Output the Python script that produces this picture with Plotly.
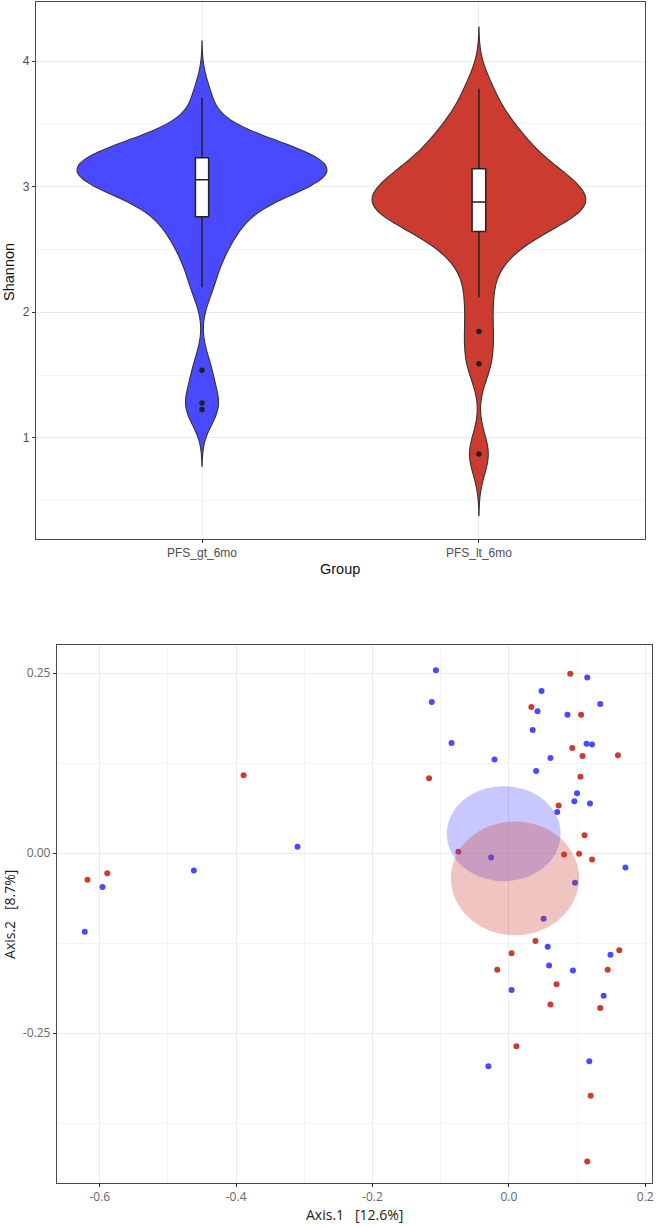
import numpy as np
import plotly.graph_objects as go

# ---------------- data ----------------
groups = ["PFS_gt_6mo", "PFS_lt_6mo"]
group_colors = ["#4949FF", "#CC3B2F"]

# Shannon diversity per sample (estimated from the violin / box plot)
shannon_gt = [1.225, 1.277, 1.538, 2.20, 2.40, 2.52, 2.62, 2.70, 2.76, 2.81,
              2.88, 2.94, 2.98, 3.01, 3.03, 3.045, 3.05, 3.06, 3.08, 3.10,
              3.12, 3.14, 3.16, 3.18, 3.21, 3.23, 3.25, 3.27, 3.29, 3.31,
              3.33, 3.36, 3.45, 3.708]
shannon_lt = [0.871, 1.59, 1.846, 2.12, 2.38, 2.52, 2.60, 2.684, 2.72, 2.76,
              2.80, 2.83, 2.86, 2.87, 2.886, 2.92, 2.96, 3.00, 3.05, 3.09,
              3.13, 3.155, 3.22, 3.30, 3.38, 3.46, 3.56, 3.78]

# PCoA coordinates
pcoa_gt_x = [-0.622, -0.596, -0.462, -0.310, -0.107, 0.115, 0.048, -0.113, 0.134, 0.042,
             0.086, 0.035, -0.084, 0.114, 0.122, -0.021, 0.061, 0.040, 0.100, 0.096,
             0.119, 0.071, -0.026, 0.171, 0.097, 0.051, 0.057, 0.149, 0.059, 0.094,
             0.004, 0.139, 0.118, -0.030]
pcoa_gt_y = [-0.109, -0.047, -0.024, 0.009, 0.254, 0.244, 0.225, 0.210, 0.207, 0.197,
             0.192, 0.171, 0.153, 0.152, 0.151, 0.130, 0.132, 0.114, 0.083, 0.072,
             0.069, 0.057, -0.006, -0.020, -0.041, -0.091, -0.130, -0.141, -0.156, -0.163,
             -0.190, -0.198, -0.289, -0.296]
pcoa_lt_x = [-0.618, -0.589, -0.389, 0.090, 0.033, 0.106, 0.093, 0.108, 0.160, -0.117,
             0.105, 0.073, 0.111, -0.074, 0.081, 0.103, 0.122, 0.039, 0.162, 0.004,
             -0.017, 0.145, 0.070, 0.061, 0.134, 0.011, 0.120, 0.115]
pcoa_lt_y = [-0.037, -0.028, 0.108, 0.249, 0.203, 0.192, 0.146, 0.135, 0.136, 0.104,
             0.106, 0.066, 0.025, 0.002, -0.002, -0.001, -0.009, -0.122, -0.135, -0.139,
             -0.162, -0.162, -0.182, -0.210, -0.215, -0.268, -0.337, -0.428]

# group ellipses (centre, semi-axes)
ell_cx = [-0.0075, 0.009]
ell_cy = [0.027, -0.035]
ell_rx = [0.0835, 0.094]
ell_ry = [0.066, 0.079]

shannon_ticks = [1, 2, 3, 4]
axis1_ticks = [-0.6, -0.4, -0.2, 0.0, 0.2]
axis1_labels = ["-0.6", "-0.4", "-0.2", "0.0", "0.2"]
axis2_ticks = [-0.25, 0.0, 0.25]
axis2_labels = ["-0.25", "0.00", "0.25"]


def nrd0(v):
    v = np.asarray(v, float)
    q1, q3 = np.quantile(v, [0.25, 0.75])
    return 0.9 * min(v.std(ddof=1), (q3 - q1) / 1.34) * len(v) ** -0.2


violin_widths = [0.9, 0.77]
box_widths = [0.053, 0.064]

fig = go.Figure()
for g, vals, col, w, bw_ in zip(groups, [shannon_gt, shannon_lt], group_colors,
                                violin_widths, box_widths):
    bw = nrd0(vals)
    fig.add_trace(go.Violin(
        y=vals, x0=g, name=g, xaxis="x", yaxis="y",
        fillcolor=col, opacity=1,
        line=dict(color="#333333", width=1.1),
        bandwidth=bw, spanmode="manual",
        span=[min(vals) - 3 * bw, max(vals) + 3 * bw],
        scalemode="width", width=w,
        points="outliers", pointpos=0, jitter=0,
        marker=dict(color="#222222", size=5.5, line=dict(width=0)),
        box=dict(visible=True, width=bw_, fillcolor="white",
                 line=dict(color="#222222", width=1.5)),
        meanline=dict(visible=False),
        showlegend=False, hoverinfo="y",
    ))

for xs, ys, col in [(pcoa_gt_x, pcoa_gt_y, group_colors[0]),
                    (pcoa_lt_x, pcoa_lt_y, group_colors[1])]:
    fig.add_trace(go.Scatter(
        x=xs, y=ys, mode="markers", xaxis="x2", yaxis="y2",
        marker=dict(color=col, size=6, line=dict(width=0)),
        showlegend=False,
    ))

ell_fill = ["rgba(73,73,255,0.30)", "rgba(204,59,47,0.30)"]
for cx, cy, rx, ry, fc in zip(ell_cx, ell_cy, ell_rx, ell_ry, ell_fill):
    fig.add_shape(type="circle", xref="x2", yref="y2",
                  x0=cx - rx, x1=cx + rx, y0=cy - ry, y1=cy + ry,
                  fillcolor=fc, line=dict(width=0), layer="above")

W, H = 661, 1228
top_font = "Liberation Sans, Arial, sans-serif"
bot_font = "Open Sans, Noto Sans, sans-serif"
grid = "#EBEBEB"
minor_grid = "#F4F4F4"
border = "#4A4A4A"

fig.update_layout(
    width=W, height=H,
    margin=dict(l=0, r=0, t=0, b=0),
    paper_bgcolor="white", plot_bgcolor="white",
    violinmode="overlay",
    xaxis=dict(
        domain=[36 / W, 647 / W], anchor="y",
        type="category", categoryorder="array", categoryarray=groups,
        range=[-0.6, 1.6],
        showgrid=True, gridcolor=grid, gridwidth=1,
        ticks="outside", ticklen=3, tickcolor="#333333",
        showline=True, mirror=True, linecolor=border, linewidth=1,
        tickfont=dict(family=top_font, size=12, color="#4D4D4D"),
        zeroline=False,
    ),
    yaxis=dict(
        domain=[1 - 539 / H, 1 - 2 / H], anchor="x",
        range=[0.195, 4.47],
        tickvals=shannon_ticks, ticktext=[str(t) for t in shannon_ticks],
        showgrid=True, gridcolor=grid, gridwidth=1,
        minor=dict(dtick=0.5, tick0=0, showgrid=True, gridcolor=minor_grid, gridwidth=1),
        ticks="outside", ticklen=3, tickcolor="#333333",
        showline=True, mirror=True, linecolor=border, linewidth=1,
        tickfont=dict(family=top_font, size=12, color="#4D4D4D"),
        zeroline=False,
    ),
    xaxis2=dict(
        domain=[57 / W, 654 / W], anchor="y2",
        range=[-0.663, 0.210],
        tickvals=axis1_ticks, ticktext=axis1_labels,
        showgrid=True, gridcolor=grid, gridwidth=1,
        minor=dict(dtick=0.1, tick0=0, showgrid=True, gridcolor=minor_grid, gridwidth=1),
        ticks="outside", ticklen=3, tickcolor="#333333",
        showline=True, mirror=True, linecolor=border, linewidth=1,
        tickfont=dict(family=bot_font, size=12, color="#666666"),
        zeroline=False,
    ),
    yaxis2=dict(
        domain=[1 - 1183 / H, 1 - 645 / H], anchor="x2",
        range=[-0.458, 0.289],
        tickvals=axis2_ticks, ticktext=axis2_labels,
        showgrid=True, gridcolor=grid, gridwidth=1,
        minor=dict(dtick=0.125, tick0=0, showgrid=True, gridcolor=minor_grid, gridwidth=1),
        ticks="outside", ticklen=3, tickcolor="#333333",
        showline=True, mirror=True, linecolor=border, linewidth=1,
        tickfont=dict(family=bot_font, size=12, color="#666666"),
        zeroline=False,
    ),
    annotations=[
        dict(text="Shannon", x=9 / W, y=1 - 272 / H, xref="paper", yref="paper",
             textangle=-90, showarrow=False, xanchor="center", yanchor="middle",
             font=dict(family=top_font, size=14.5, color="#111111")),
        dict(text="Group", x=341.5 / W, y=1 - 569 / H, xref="paper", yref="paper",
             showarrow=False, xanchor="center", yanchor="middle",
             font=dict(family=top_font, size=14.5, color="#111111")),
        dict(text="Axis.2&nbsp;&nbsp;&nbsp;[8.7%]", x=9 / W, y=1 - 914 / H,
             xref="paper", yref="paper", textangle=-90, showarrow=False,
             xanchor="center", yanchor="middle",
             font=dict(family=bot_font, size=14, color="#222222")),
        dict(text="Axis.1&nbsp;&nbsp;&nbsp;[12.6%]", x=356 / W, y=1 - 1214 / H,
             xref="paper", yref="paper", showarrow=False,
             xanchor="center", yanchor="middle",
             font=dict(family=bot_font, size=14, color="#222222")),
    ],
)

fig.write_html("out.html",
               config={"displayModeBar": False},
               post_script="document.body.style.margin='0';document.body.style.padding='0';")
